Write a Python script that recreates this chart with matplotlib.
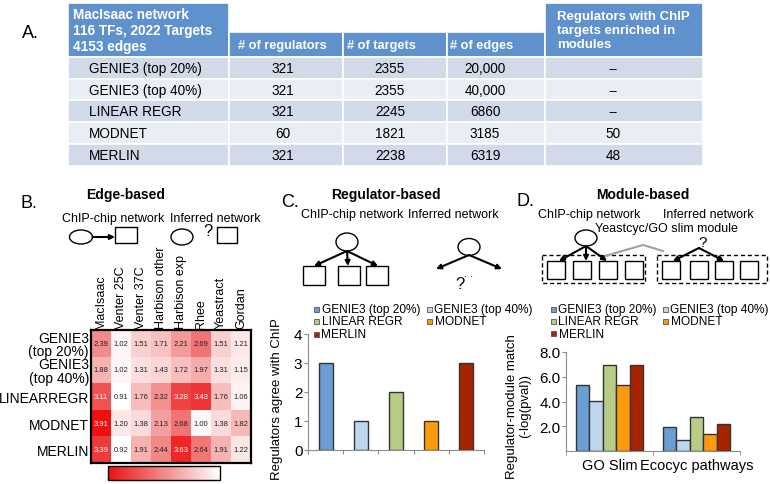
import numpy as np
import matplotlib
matplotlib.use('Agg')
import matplotlib.pyplot as plt
from matplotlib.patches import Rectangle, Ellipse
from matplotlib.colors import LinearSegmentedColormap, Normalize
from matplotlib.cm import ScalarMappable

plt.rcParams['font.family'] = ['Liberation Sans', 'DejaVu Sans']

# --- table (panel A)
table_title = 'MacIsaac network\n116 TFs, 2022 Targets\n4153 edges'
table_heads = ['# of regulators', '# of targets', '# of edges',
               'Regulators with ChIP\ntargets enriched in\nmodules']
methods = ['GENIE3 (top 20%)', 'GENIE3 (top 40%)', 'LINEAR REGR', 'MODNET', 'MERLIN']
n_regulators = ['321', '321', '321', '60', '321']
n_targets = ['2355', '2355', '2245', '1821', '2238']
n_edges = ['20,000', '40,000', '6860', '3185', '6319']
chip_enriched = ['--', '--', '--', '50', '48']

# --- heatmap (panel B)
heat_rows = ['GENIE3\n(top 20%)', 'GENIE3\n(top 40%)', 'LINEARREGR', 'MODNET', 'MERLIN']
heat_cols = ['MacIsaac', 'Venter 25C', 'Venter 37C', 'Harbison other',
             'Harbison exp', 'Rhee', 'Yeastract', 'Gordan']
heat_vals = [
    [2.39, 1.02, 1.51, 1.71, 2.21, 2.69, 1.51, 1.21],
    [1.88, 1.02, 1.31, 1.43, 1.72, 1.97, 1.31, 1.15],
    [3.11, 0.91, 1.76, 2.32, 3.28, 3.43, 1.76, 1.06],
    [3.91, 1.20, 1.38, 2.13, 2.68, 1.00, 1.38, 1.82],
    [3.39, 0.92, 1.91, 2.44, 3.63, 2.64, 1.91, 1.22],
]

# --- bar charts (panels C, D)
series = ['GENIE3 (top 20%)', 'GENIE3 (top 40%)', 'LINEAR REGR', 'MODNET', 'MERLIN']
colors = ['#6a9fd4', '#bdd6ee', '#b7cc86', '#ff9a0c', '#a82300']
chip_agree = [3, 1, 2, 1, 3]
module_cats = ['GO Slim', 'Ecocyc pathways']
go_slim = [5.35, 4.05, 6.95, 5.3, 6.95]
ecocyc = [1.95, 0.85, 2.75, 1.4, 2.15]

W, H = 770, 485
fig = plt.figure(figsize=(7.7, 4.85), dpi=100)
ov = fig.add_axes([0, 0, 1, 1])
ov.set_xlim(0, W)
ov.set_ylim(H, 0)
ov.axis('off')


def box(l, t, r, b):
    a = fig.add_axes([l / W, 1 - b / H, (r - l) / W, (b - t) / H])
    a.patch.set_alpha(0)
    return a


def cell(l, t, r, b, fc):
    ov.add_patch(Rectangle((l, t), r - l, b - t, facecolor=fc, edgecolor='white', lw=1.2))


def arrow(x0, y0, x1, y1):
    ov.annotate('', xy=(x1, y1), xytext=(x0, y0),
                arrowprops=dict(arrowstyle='-|>', color='k', lw=1.5, mutation_scale=7,
                                shrinkA=0, shrinkB=0))


# ---------------- A. table
ov.text(22, 34, 'A.', fontsize=13, va='center')
col_x = [68, 229, 343, 447, 545, 703]
blue = '#5f92cd'
cell(col_x[0], 4, col_x[1], 58, blue)
for j in range(1, 4):
    cell(col_x[j], 33, col_x[j + 1], 58, blue)
cell(col_x[4], 4, col_x[5], 58, blue)
ov.text(73, 31, table_title, color='white', fontweight='bold', fontsize=9.8,
        va='center', linespacing=1.2)
head_x = [238, 347, 450, 557]
for j, h in enumerate(table_heads):
    yy = 46 if j < 3 else 31
    ov.text(head_x[j], yy, h, color='white', fontweight='bold',
            fontsize=9.2 if j < 3 else 9.5, va='center', linespacing=1.2)

row_top = 58
row_h = 21.7
val_x = [283, 390, 485, 613]
for i, m in enumerate(methods):
    t = row_top + i * row_h
    fc = '#d1dae9' if i % 2 == 0 else '#e9edf4'
    for j in range(5):
        cell(col_x[j], t, col_x[j + 1], t + row_h, fc)
    yc = t + row_h / 2
    ov.text(89, yc, m, fontsize=9.8, va='center')
    for j, v in enumerate([n_regulators[i], n_targets[i], n_edges[i], chip_enriched[i]]):
        ov.text(val_x[j], yc, v, fontsize=9.8, va='center', ha='center')

# ---------------- B. edge-based
ov.text(20, 204, 'B.', fontsize=13, va='center')
ov.text(126, 195, 'Edge-based', fontsize=10, fontweight='bold', ha='center', va='center')
ov.text(113, 219, 'ChIP-chip network', fontsize=9, ha='center', va='center')
ov.text(215, 219, 'Inferred network', fontsize=9, ha='center', va='center')
ov.add_patch(Ellipse((81, 238), 23, 14, fill=False, lw=1))
arrow(92.5, 238, 115, 238)
ov.add_patch(Rectangle((115, 228), 22, 16, fill=False, lw=1))
ov.add_patch(Ellipse((182, 238), 22, 16, fill=False, lw=1))
ov.text(208, 232, '?', fontsize=12, ha='center', va='center')
ov.add_patch(Rectangle((217, 228), 20, 16, fill=False, lw=1))

axh = box(91, 331, 251, 464)
cmap = LinearSegmentedColormap.from_list('wr', ['#ffffff', '#f28a8a', '#ee1010'])
norm = Normalize(vmin=0.91, vmax=3.91)
hv = np.array(heat_vals)
axh.imshow(hv, cmap=cmap, norm=norm, aspect='auto')
for i in range(hv.shape[0]):
    for j in range(hv.shape[1]):
        axh.text(j, i, f'{hv[i, j]:.2f}', ha='center', va='center', fontsize=5.5,
                 color='white' if hv[i, j] > 3 else '#222222')
axh.xaxis.tick_top()
axh.set_xticks(range(len(heat_cols)))
axh.set_xticklabels(heat_cols, rotation=90, fontsize=9)
axh.set_yticks(range(len(heat_rows)))
axh.set_yticklabels(heat_rows, fontsize=10, linespacing=0.95)
axh.tick_params(length=0, pad=1.5)
for s in axh.spines.values():
    s.set_linewidth(1.6)

cax = box(108, 467, 220, 481)
cb = fig.colorbar(ScalarMappable(norm=norm, cmap=cmap), cax=cax, orientation='horizontal')
cax.invert_xaxis()
cb.set_ticks([])
cb.outline.set_linewidth(1)


def legend_at(x0, x1, y0, dy):
    for k, (name, c) in enumerate(zip(series, colors)):
        r, cidx = divmod(k, 2)
        xm = x0 if cidx == 0 else x1
        y = y0 + r * dy
        ov.add_patch(Rectangle((xm - 2.5, y - 2.5), 5, 5, facecolor=c, edgecolor='#555555', lw=0.6))
        ov.text(xm + 5.5, y, name, fontsize=8.6, va='center')


def style_bar_axes(ax):
    for s in ['top', 'right']:
        ax.spines[s].set_visible(False)
    for s in ['left', 'bottom']:
        ax.spines[s].set_color('#8c8c8c')
    ax.tick_params(colors='#8c8c8c', labelcolor='black')


# ---------------- C. regulator-based
ov.text(281, 203, 'C.', fontsize=13, va='center')
ov.text(386, 195, 'Regulator-based', fontsize=10, fontweight='bold', ha='center', va='center')
ov.text(352, 215, 'ChIP-chip network', fontsize=9, ha='center', va='center')
ov.text(453, 215, 'Inferred network', fontsize=9, ha='center', va='center')
ov.add_patch(Ellipse((347, 243), 22, 18, fill=False, lw=1))
for (l, r) in [(303, 325), (338, 360), (366, 388)]:
    ov.add_patch(Rectangle((l, 267), r - l, 19, fill=False, lw=1))
for xe in [314, 348, 378]:
    arrow(347, 252, xe, 267)
ov.add_patch(Ellipse((469, 248), 22, 17, fill=False, lw=1))
for xe in [436, 502]:
    arrow(469, 256, xe, 270)
ov.text(460, 285, '?', fontsize=12, ha='center', va='center')
ov.text(469, 274, '. .', fontsize=8, ha='center', va='center')
legend_at(316, 429, 310, 12.5)

axc = box(308, 335, 484, 451)
xc = np.arange(len(series))
axc.bar(xc, chip_agree, width=0.4, color=colors, edgecolor='#333333', lw=1)
axc.set_xlim(-0.5, len(series) - 0.5)
axc.set_ylim(0, 4)
axc.set_yticks(range(5))
axc.set_xticks(np.arange(-0.5, len(series)))
axc.set_xticklabels([])
axc.tick_params(axis='y', labelsize=11, length=3, pad=1)
axc.tick_params(axis='x', length=3)
style_bar_axes(axc)
axc.set_ylabel('Regulators agree with ChIP', fontsize=9.5)
axc.yaxis.set_label_coords(-0.14, 0.45)

# ---------------- D. module-based
ov.text(517, 202, 'D.', fontsize=13, va='center')
ov.text(643, 195, 'Module-based', fontsize=10, fontweight='bold', ha='center', va='center')
ov.text(589, 215, 'ChIP-chip network', fontsize=9, ha='center', va='center')
ov.text(708, 215, 'Inferred network', fontsize=9, ha='center', va='center')
ov.text(666, 229, 'Yeastcyc/GO slim module', fontsize=9, ha='center', va='center')
ov.add_patch(Ellipse((586, 239), 22, 16, fill=False, lw=1))
ov.add_patch(Rectangle((542, 256), 103, 28, fill=False, lw=1, ls=(0, (3, 2))))
ov.add_patch(Rectangle((657, 256), 110, 28, fill=False, lw=1, ls=(0, (3, 2))))
for l in [547, 573, 599, 625, 662, 690, 715, 740]:
    ov.add_patch(Rectangle((l, 262), 18, 18, fill=False, lw=1))
ov.plot([605, 643, 663], [257, 246, 252], color='#a0a0a0', lw=1.5)
for xe in [559, 586, 607]:
    arrow(586, 247, xe, 262)
ov.text(703, 243, '?', fontsize=11, ha='center', va='center')
for xe in [673, 724]:
    arrow(699, 249, xe, 262)
legend_at(553, 665, 310, 12.3)

axd = box(566, 353, 740, 452)
bw = 0.155
xd = np.arange(len(module_cats))
for k, (name, c) in enumerate(zip(series, colors)):
    axd.bar(xd + (k - 2) * bw, [go_slim[k], ecocyc[k]], width=bw, color=c,
            edgecolor='#333333', lw=1)
axd.set_xlim(-0.5, len(module_cats) - 0.5)
axd.set_ylim(0, 8)
axd.set_yticks([2, 4, 6, 8])
axd.set_yticklabels([f'{v:.1f}' for v in [2, 4, 6, 8]])
axd.set_xticks(xd)
axd.set_xticklabels(module_cats, fontsize=10.5)
axd.set_xticks(np.arange(-0.5, len(module_cats)), minor=True)
axd.tick_params(axis='x', which='major', length=0, pad=5)
axd.tick_params(axis='x', which='minor', length=3, color='#8c8c8c')
axd.tick_params(axis='y', labelsize=11, length=3, pad=1)
style_bar_axes(axd)
axd.set_ylabel('Regulator-module match\n(-log(pval))', fontsize=9.5, linespacing=1.1)
axd.yaxis.set_label_coords(-0.2, 0.46)

fig.savefig('out.png', dpi=100)
